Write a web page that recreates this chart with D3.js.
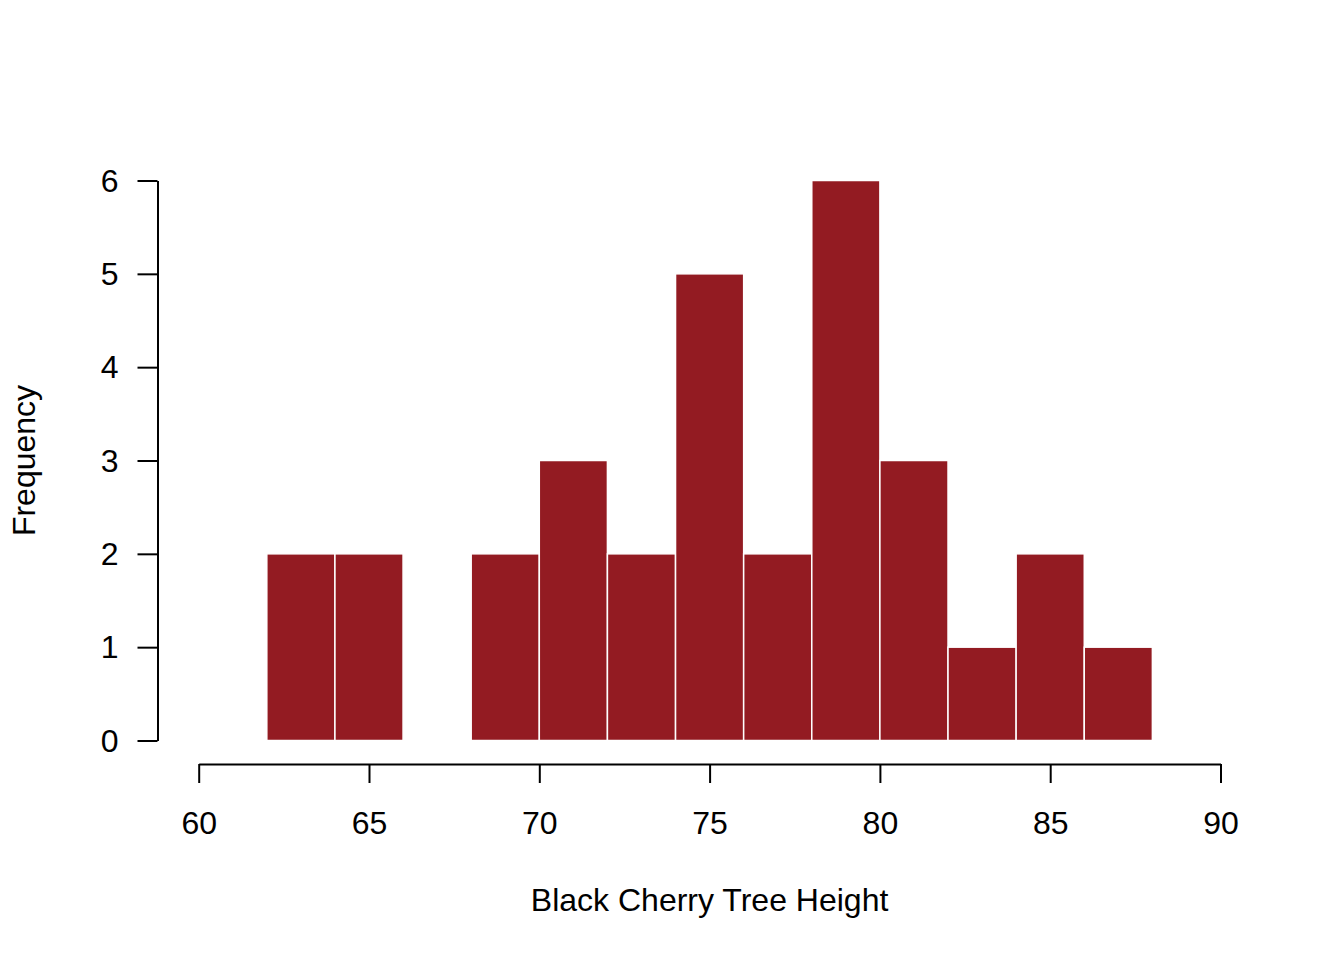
<!DOCTYPE html>
<html><head><meta charset="utf-8">
<script src="https://cdn.jsdelivr.net/npm/d3@7"></script>
<style>body{margin:0;background:#fff}svg{display:block}</style>
</head><body>
<script>
const binStarts = [62,64,66,68,70,72,74,76,78,80,82,84,86];
const binWidth = 2;
const counts = [2,2,0,2,3,2,5,2,6,3,1,2,1];
const xTicks = [60,65,70,75,80,85,90];
const yTicks = [0,1,2,3,4,5,6];
const xLabel = "Black Cherry Tree Height";
const yLabel = "Frequency";

const W = 1344, H = 960;
const svg = d3.select("body").append("svg").attr("width", W).attr("height", H);
const x = d3.scaleLinear().domain([60,90]).range([198.7,1220.5]);
const y = d3.scaleLinear().domain([0,6]).range([740.5,180.5]);
const font = "'Liberation Sans', Arial, Helvetica, sans-serif";
const fs = 32;

svg.append("g").selectAll("rect").data(binStarts.map((s,i)=>({s,c:counts[i]})).filter(d=>d.c>0))
  .join("rect")
  .attr("x", d=>x(d.s)).attr("width", d=>x(d.s+binWidth)-x(d.s))
  .attr("y", d=>y(d.c)).attr("height", d=>y(0)-y(d.c))
  .attr("fill", "#931B22").attr("stroke", "#fff").attr("stroke-width", 1.5);

const xa = svg.append("g").attr("transform","translate(0,764)")
  .call(d3.axisBottom(x).tickValues(xTicks).tickSize(19).tickSizeOuter(0).tickPadding(0).tickFormat(d3.format("d")));
const ya = svg.append("g").attr("transform","translate(157.5,0)")
  .call(d3.axisLeft(y).tickValues(yTicks).tickSize(20).tickSizeOuter(0).tickPadding(0).tickFormat(d3.format("d")));
[xa,ya].forEach(a=>{
  a.select(".domain").attr("stroke","#000").attr("stroke-width",2);
  a.selectAll(".tick line").attr("stroke","#000").attr("stroke-width",2);
  a.selectAll("text").attr("font-family",font).attr("font-size",fs).attr("fill","#000");
});
xa.selectAll(".tick text").attr("y",70).attr("dy",0);
ya.selectAll(".tick text").attr("x",-39).attr("dy","0.33em");

svg.append("text").attr("x", x(75)).attr("y", 911).attr("text-anchor","middle")
  .attr("font-family",font).attr("font-size",fs).text(xLabel);
svg.append("text").attr("transform",`translate(35,${(y(0)+y(6))/2}) rotate(-90)`).attr("text-anchor","middle")
  .attr("font-family",font).attr("font-size",fs).text(yLabel);
</script>
</body></html>
